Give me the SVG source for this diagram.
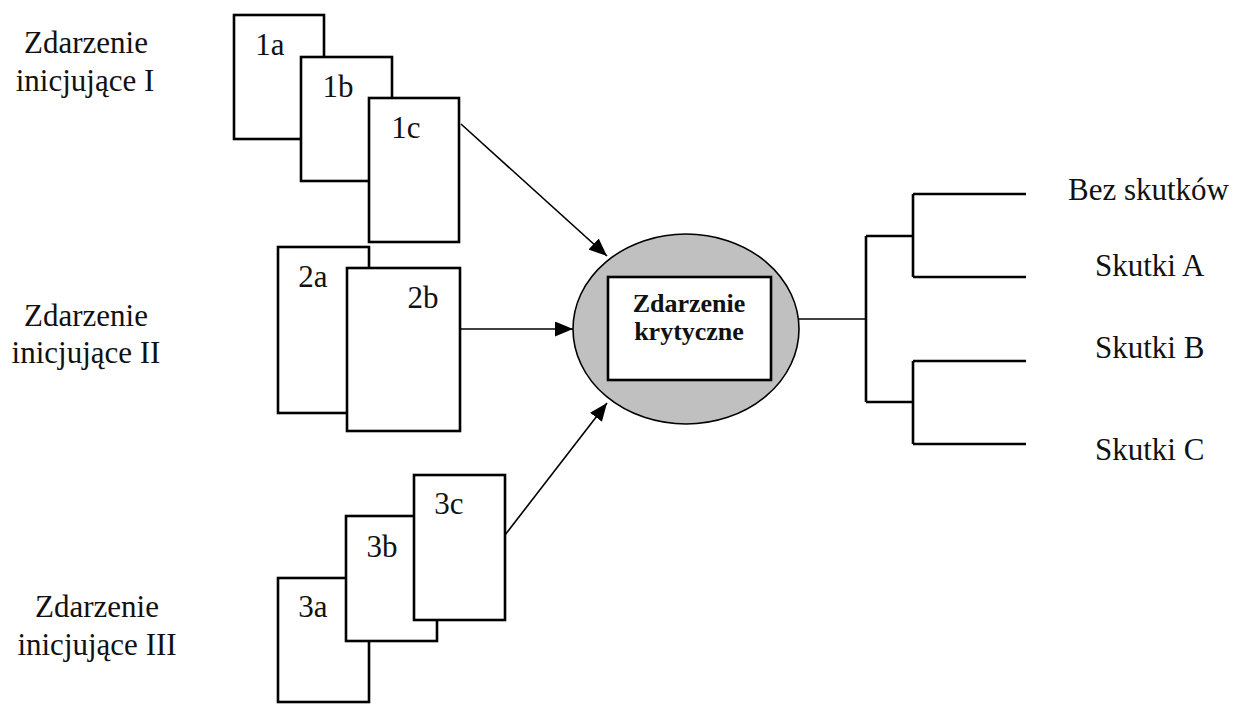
<svg xmlns="http://www.w3.org/2000/svg" width="1237" height="704" viewBox="0 0 1237 704">
<style>
.lbl{font-family:"Liberation Serif","Times New Roman",serif;font-size:31px;fill:#111;}
.box{fill:#fff;stroke:#000;stroke-width:2.6;}
.conn{stroke:#000;stroke-width:1.6;fill:none;}
.tree{stroke:#000;stroke-width:2.6;fill:none;}
.bold{font-family:"Liberation Serif","Times New Roman",serif;font-size:26px;font-weight:bold;fill:#111;}
</style>
<defs>
<marker id="ah" markerUnits="userSpaceOnUse" markerWidth="19" markerHeight="15" refX="18" refY="7.5" orient="auto">
<path d="M0,0 L18,7.5 L0,15 Z" fill="#000"/>
</marker>
</defs>
<rect width="1237" height="704" fill="#fff"/>

<g id="label-I">
<text class="lbl" x="86" y="53" text-anchor="middle">Zdarzenie</text>
<text class="lbl" x="85" y="91" text-anchor="middle">inicjujące I</text>
</g>
<g id="label-II">
<text class="lbl" x="86" y="326" text-anchor="middle">Zdarzenie</text>
<text class="lbl" x="86" y="363" text-anchor="middle">inicjujące II</text>
</g>
<g id="label-III">
<text class="lbl" x="97" y="617" text-anchor="middle">Zdarzenie</text>
<text class="lbl" x="97" y="655" text-anchor="middle">inicjujące III</text>
</g>

<g id="n1a"><rect class="box" x="234" y="15" width="90" height="124"/><text class="lbl" x="270" y="55" text-anchor="middle">1a</text></g>
<g id="n1b"><rect class="box" x="301" y="57" width="91" height="124"/><text class="lbl" x="338" y="97" text-anchor="middle">1b</text></g>
<g id="n1c"><rect class="box" x="369" y="98" width="90" height="144"/><text class="lbl" x="406" y="138" text-anchor="middle">1c</text></g>

<g id="n2a"><rect class="box" x="278" y="247" width="91" height="166"/><text class="lbl" x="313" y="287" text-anchor="middle">2a</text></g>
<g id="n2b"><rect class="box" x="347" y="268" width="113" height="163"/><text class="lbl" x="423" y="308" text-anchor="middle">2b</text></g>

<g id="n3a"><rect class="box" x="278" y="578" width="91" height="124"/><text class="lbl" x="313" y="617" text-anchor="middle">3a</text></g>
<g id="n3b"><rect class="box" x="346" y="516" width="91" height="125"/><text class="lbl" x="382" y="557" text-anchor="middle">3b</text></g>
<g id="n3c"><rect class="box" x="414" y="475" width="91" height="145"/><text class="lbl" x="449" y="514" text-anchor="middle">3c</text></g>

<g id="critical">
<ellipse cx="686" cy="329" rx="113" ry="95" fill="#c0c0c0" stroke="#000" stroke-width="1.6"/>
<rect x="608" y="277" width="163" height="103" fill="#fff" stroke="#000" stroke-width="2.6"/>
<text class="bold" x="689" y="312" text-anchor="middle">Zdarzenie</text>
<text class="bold" x="689" y="340" text-anchor="middle">krytyczne</text>
</g>

<g id="outcomes">
<text class="lbl" x="1068" y="200">Bez skutków</text>
<text class="lbl" x="1095" y="276">Skutki A</text>
<text class="lbl" x="1095" y="358">Skutki B</text>
<text class="lbl" x="1095" y="460">Skutki C</text>
</g>

<g id="connectors">
<line class="conn" x1="461" y1="124" x2="607" y2="256" marker-end="url(#ah)"/>
<line class="conn" x1="460" y1="329" x2="573" y2="329" marker-end="url(#ah)"/>
<line class="conn" x1="505" y1="535" x2="607" y2="403" marker-end="url(#ah)"/>
<line class="conn" x1="799" y1="319" x2="866" y2="319"/>
<path class="tree" d="M866,236 V402 M866,236 H913 M866,402 H913 M913,194 V277 M913,194 H1026 M913,277 H1026 M913,361 V444 M913,361 H1026 M913,444 H1026"/>
</g>
</svg>
